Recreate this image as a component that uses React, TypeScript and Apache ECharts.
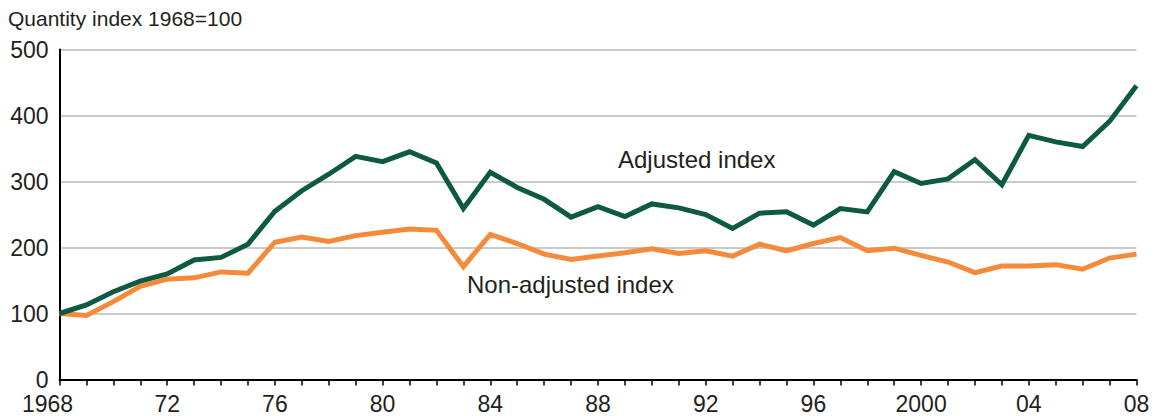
import React, { useEffect, useRef } from "react";
import * as echarts from "echarts";

const years: string[] = [];
for (let y = 1968; y <= 2008; y++) years.push(String(y));

const adjusted = [
  100, 113, 133, 149, 160, 181, 185, 205, 255, 286, 311, 338, 330, 345, 328, 259,
  314, 291, 273, 246, 262, 247, 266, 260, 250, 229, 252, 254, 234, 259, 254, 315,
  297, 304, 333, 295, 370, 360, 353, 391, 445,
];
const nonAdjusted = [
  100, 97, 118, 141, 152, 154, 163, 161, 208, 216, 209, 218, 223, 228, 226, 171,
  220, 206, 190, 182, 187, 192, 198, 191, 195, 187, 205, 195, 206, 215, 195, 199,
  188, 178, 162, 172, 172, 174, 167, 184, 190,
];
const yTicks = [0, 100, 200, 300, 400, 500];

const TEXT = "#231f20";
const FONT = "'Liberation Sans', Arial, Helvetica, sans-serif";

export default function App() {
  const ref = useRef<HTMLDivElement>(null);
  useEffect(() => {
    if (!ref.current) return;
    const chart = echarts.init(ref.current, undefined, { renderer: "svg" });
    chart.setOption({
      animation: false,
      backgroundColor: "#ffffff",
      textStyle: { fontFamily: FONT },
      grid: { left: 59.5, right: 17.5, top: 49.5, bottom: 36.5, containLabel: false },
      xAxis: {
        type: "category",
        data: years,
        boundaryGap: false,
        axisLine: { lineStyle: { color: "#000", width: 2 } },
        axisTick: { show: true, interval: 0, length: 6, lineStyle: { color: "#000", width: 1.5 } },
        axisLabel: {
          interval: 3,
          margin: 14,
          color: TEXT,
          fontSize: 23,
          lineHeight: 20,
          fontFamily: FONT,
          formatter: (v: string) => {
            if (v === "1968") return "{first|1968}";
            if (v === "2000") return "2000";
            return v.slice(2);
          },
          rich: {
            first: { fontSize: 23, lineHeight: 20, color: TEXT, fontFamily: FONT, padding: [0, 24, 0, 0] },
          },
        },
        splitLine: { show: false },
      },
      yAxis: {
        type: "value",
        min: yTicks[0],
        max: yTicks[yTicks.length - 1],
        interval: 100,
        axisLine: { show: true, lineStyle: { color: "#000", width: 2 } },
        axisTick: { show: false },
        axisLabel: { margin: 11, color: TEXT, fontSize: 23, lineHeight: 18, fontFamily: FONT },
        splitLine: { lineStyle: { color: "#b9b9b9", width: 1.5 } },
      },
      series: [
        {
          name: "Non-adjusted index",
          type: "line",
          data: nonAdjusted,
          symbol: "none",
          lineStyle: { color: "#f58a3b", width: 5, join: "miter" },
          z: 3,
        },
        {
          name: "Adjusted index",
          type: "line",
          data: adjusted,
          symbol: "none",
          lineStyle: { color: "#0d5a40", width: 5, join: "miter" },
          z: 4,
        },
      ],
      graphic: [
        {
          type: "text",
          left: 8,
          top: 8,
          style: { text: "Quantity index 1968=100", fontSize: 21, fill: TEXT, fontFamily: FONT },
        },
        {
          type: "text",
          left: 618,
          top: 147,
          style: { text: "Adjusted index", fontSize: 24, fill: TEXT, fontFamily: FONT },
        },
        {
          type: "text",
          left: 467,
          top: 272,
          style: { text: "Non-adjusted index", fontSize: 24, fill: TEXT, fontFamily: FONT },
        },
      ],
    });
    return () => chart.dispose();
  }, []);
  return (
    <div
      ref={ref}
      style={{ position: "fixed", left: 0, top: 0, width: 1154, height: 416 }}
    />
  );
}
